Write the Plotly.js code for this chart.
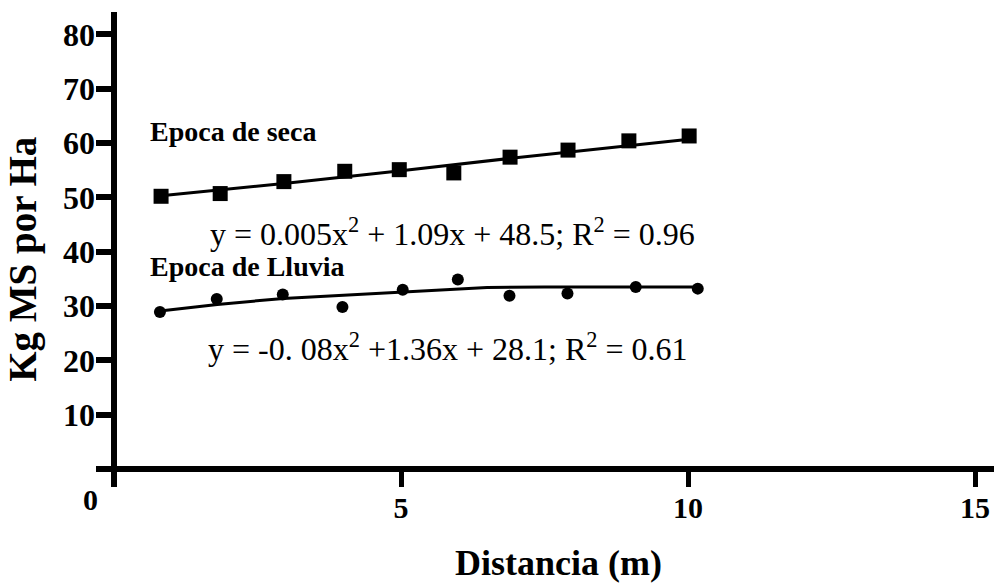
<!DOCTYPE html>
<html>
<head>
<meta charset="utf-8">
<script src="https://cdn.plot.ly/plotly-3.0.1.min.js"></script>
<style>html,body{margin:0;padding:0;background:#fff;}#chart{width:997px;height:584px;}</style>
</head>
<body>
<div id="chart"></div>
<script>
// ---- data ----
const distSeca   = [0.82, 1.85, 2.96, 4.02, 4.97, 5.92, 6.90, 7.91, 8.97, 10.02];
const kgSeca     = [50.2, 50.7, 52.9, 54.8, 55.1, 54.5, 57.4, 58.7, 60.4, 61.3];
const distLluvia = [0.80, 1.79, 2.94, 3.98, 5.03, 5.99, 6.89, 7.90, 9.09, 10.17];
const kgLluvia   = [28.9, 31.3, 32.1, 29.8, 33.0, 34.9, 31.9, 32.3, 33.5, 33.2];
// trend lines as drawn in the picture
const fitSecaX   = [0.82, 3.0, 5.0, 7.0, 10.02];
const fitSecaY   = [50.3, 52.6, 54.9, 57.3, 60.7];
const fitLluviaX = [0.80, 1.8, 2.95, 4.0, 5.35, 6.5, 7.5, 8.5, 10.17];
const fitLluviaY = [29.1, 30.3, 31.4, 32.0, 32.8, 33.4, 33.5, 33.5, 33.5];
const xTicks = [5, 10, 15];
const yTicks = [10, 20, 30, 40, 50, 60, 70, 80];
const labelSeca = "Epoca de seca";
const labelLluvia = "Epoca de Lluvia";
const eqSeca = "y = 0.005x<sup>2</sup> + 1.09x + 48.5; R<sup>2</sup> = 0.96";
const eqLluvia = "y = -0. 08x<sup>2</sup> +1.36x + 28.1; R<sup>2</sup> = 0.61";
const xTitle = "&nbsp;&nbsp;&nbsp;Distancia (m)";
const yTitle = "Kg MS por Ha&nbsp;&nbsp;";

// ---- layout geometry (pixels) ----
const W = 997, H = 584;
const M = {l: 96, r: 3, t: 12, b: 97};
const PW = W - M.l - M.r, PH = H - M.t - M.b;
const px = x => (x - M.l) / PW;
const py = y => (H - M.b - y) / PH;

const FONT = "Liberation Serif, Times New Roman, serif";

const traces = [
  {x: fitSecaX, y: fitSecaY, mode: 'lines', line: {color: '#000', width: 3}, hoverinfo: 'skip'},
  {x: distSeca, y: kgSeca, mode: 'markers', marker: {symbol: 'square', size: 15, color: '#000'}},
  {x: fitLluviaX, y: fitLluviaY, mode: 'lines', line: {color: '#000', width: 3}, hoverinfo: 'skip'},
  {x: distLluvia, y: kgLluvia, mode: 'markers', marker: {symbol: 'circle', size: 12, color: '#000'}}
];

const ann = (text, x, y, size, bold, xanchor) => ({
  text: text, xref: 'paper', yref: 'paper', x: px(x), y: py(y),
  xanchor: xanchor || 'left', yanchor: 'middle', showarrow: false,
  font: {family: FONT, size: size, color: '#000', weight: bold ? 'bold' : 'normal'}
});

const layout = {
  width: W, height: H,
  margin: M,
  paper_bgcolor: '#fff', plot_bgcolor: '#fff',
  showlegend: false,
  font: {family: FONT, color: '#000'},
  xaxis: {
    range: [-0.3136, 15.331],
    tickvals: xTicks, ticktext: xTicks.map(String),
    ticks: 'inside', ticklen: 18, tickwidth: 5, tickcolor: '#000',
    showgrid: false, showline: false,
    zeroline: true, zerolinecolor: '#000', zerolinewidth: 6,
    tickfont: {family: FONT, size: 30, color: '#000', weight: 'bold'},
    title: {text: xTitle, font: {family: FONT, size: 36, color: '#000', weight: 'bold'}, standoff: 26},
    fixedrange: true
  },
  yaxis: {
    range: [-3.313, 84.12],
    tickvals: yTicks, ticktext: yTicks.map(String),
    ticks: 'inside', ticklen: 18, tickwidth: 6, tickcolor: '#000',
    showgrid: false, showline: false,
    zeroline: true, zerolinecolor: '#000', zerolinewidth: 6,
    tickfont: {family: FONT, size: 32, color: '#000', weight: 'bold'},
    title: {text: yTitle, font: {family: FONT, size: 39, color: '#000', weight: 'bold'}, standoff: 14},
    fixedrange: true
  },
  annotations: [
    ann(labelSeca, 148, 131, 28, true),
    ann(labelLluvia, 148, 266, 28, true),
    ann(eqSeca, 208, 232, 32, false),
    ann(eqLluvia, 206, 347, 32, false),
    ann('0', 90, 500, 30, true, 'center')
  ]
};

Plotly.newPlot('chart', traces, layout, {staticPlot: true, displayModeBar: false});
</script>
</body>
</html>
